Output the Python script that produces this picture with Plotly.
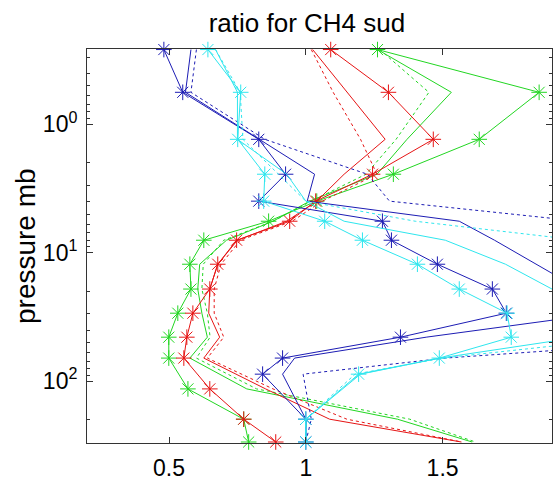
import plotly.graph_objects as go

# pressure levels (mb)
p_bc = [0.262, 0.564, 1.31, 2.45, 3.97, 5.69, 8.0, 12.3, 19.2, 29.6, 45.5, 66.2, 88.3, 198, 298]
p_rg = [0.262, 0.564, 1.31, 2.45, 3.97, 5.69, 8.0, 12.3, 19.2, 29.6, 45.5, 66.2, 115, 198, 298]

# blue
blue_star = [0.481, 0.550, 0.828, 0.926, 0.828, 1.280, 1.313, 1.481, 1.682, 1.733, 1.346, 0.915, 0.842, 1.0, 1.0]
blue_line = [0.580, 0.560, 0.830, 1.032, 1.005, 1.561, 1.690, 1.846, 2.000, 2.090, 1.440, 0.959, 0.915, 1.0, 1.0]
blue_dot = [0.600, 0.580, 0.850, 1.225, 1.306, 2.000, 2.100, 2.100, 2.100, 2.300, 2.600, 1.510, 0.990, 1.02, 1.0]
# cyan
cyan_star = [0.642, 0.762, 0.751, 0.850, 0.846, 1.069, 1.207, 1.408, 1.561, 1.736, 1.751, 1.488, 1.193, 1.0, 1.0]
cyan_line = [0.670, 0.750, 0.750, 0.930, 1.000, 1.140, 1.510, 1.730, 1.900, 2.100, 2.000, 1.490, 1.200, 1.0, 1.0]
cyan_dot = [0.670, 0.760, 0.770, 0.900, 1.000, 1.400, 2.000, 2.100, 2.200, 2.300, 2.200, 1.500, 1.180, 1.0, 1.0]
# red
red_star = [1.091, 1.302, 1.466, 1.244, 1.036, 0.941, 0.747, 0.678, 0.649, 0.587, 0.565, 0.554, 0.649, 0.773, 0.890]
red_line = [1.025, 1.150, 1.290, 1.140, 1.040, 0.930, 0.750, 0.678, 0.649, 0.645, 0.685, 0.627, 0.853, 1.087, 1.569]
red_dot = [1.020, 1.100, 1.200, 1.260, 1.060, 0.950, 0.760, 0.690, 0.665, 0.665, 0.700, 0.640, 0.880, 1.150, 1.570]
# green
green_star = [1.262, 1.853, 1.634, 1.320, 1.040, 0.864, 0.627, 0.576, 0.580, 0.532, 0.499, 0.499, 0.569, 0.773, 0.791]
green_line = [1.262, 1.532, 1.370, 1.260, 1.014, 0.880, 0.710, 0.612, 0.605, 0.620, 0.640, 0.576, 0.784, 1.335, 1.608]
green_dot = [1.270, 1.450, 1.330, 1.220, 1.020, 0.880, 0.700, 0.625, 0.620, 0.640, 0.650, 0.600, 0.820, 1.380, 1.620]

x_ticks = [0.5, 1, 1.5]
y_ticks = [1, 10, 100]
y_ticktext = ["10<sup>0</sup>", "10<sup>1</sup>", "10<sup>2</sup>"]
y_minor = [0.3, 0.4, 0.5, 0.6, 0.7, 0.8, 0.9, 2, 3, 4, 5, 6, 7, 8, 9,
           20, 30, 40, 50, 60, 70, 80, 90, 200, 300]

BLUE = "#1c1cb4"
CYAN = "#2ee6ee"
RED = "#e61414"
GREEN = "#22d622"
FONT = "Liberation Sans, Arial"

groups = [
    (GREEN, p_rg, green_star, green_line, green_dot),
    (RED, p_rg, red_star, red_line, red_dot),
    (BLUE, p_bc, blue_star, blue_line, blue_dot),
    (CYAN, p_bc, cyan_star, cyan_line, cyan_dot),
]

fig = go.Figure()
for color, p, s, l, d in groups:
    fig.add_trace(go.Scatter(x=d, y=p, mode="lines", hoverinfo="skip",
                             line=dict(color=color, width=1, dash="dot")))
    fig.add_trace(go.Scatter(x=l, y=p, mode="lines", hoverinfo="skip",
                             line=dict(color=color, width=1)))
    fig.add_trace(go.Scatter(x=s, y=p, mode="lines+markers", hoverinfo="skip",
                             line=dict(color=color, width=1),
                             marker=dict(symbol="asterisk-open", size=13,
                                         line=dict(color=color, width=1)),
                             cliponaxis=False))

axis_common = dict(showline=True, linecolor="#333333", linewidth=1, mirror="allticks",
                   ticks="inside", tickcolor="#333333", showgrid=False, zeroline=False,
                   automargin=False,
                   tickfont=dict(family=FONT, size=23, color="#000000"))

fig.update_layout(
    width=553, height=480,
    margin=dict(l=87, r=1, t=49, b=37),
    paper_bgcolor="white", plot_bgcolor="white",
    showlegend=False,
    title=dict(text="ratio for CH4 sud", x=0.555, xanchor="center", y=0.953, yanchor="middle",
               font=dict(family=FONT, size=26, color="#000000")),
    xaxis=dict(range=[0.2, 1.9], tickvals=x_ticks, ticklen=6, ticklabelstandoff=4, **axis_common),
    yaxis=dict(type="log", range=[2.482, -0.586], tickvals=y_ticks, ticktext=y_ticktext,
               ticklen=6, ticklabelstandoff=4,
               minor=dict(tickvals=y_minor, ticks="inside", ticklen=3, tickcolor="#333333"),
               **axis_common),
    annotations=[dict(text="pressure mb", xref="paper", yref="paper", x=(25 - 87) / 465,
                      y=0.5, xanchor="center", yanchor="middle", textangle=-90,
                      showarrow=False, font=dict(family=FONT, size=28, color="#000000"))],
)

fig.write_html("out.html", config={"displayModeBar": False},
               post_script="document.body.style.margin='0';document.body.style.overflow='hidden';")
